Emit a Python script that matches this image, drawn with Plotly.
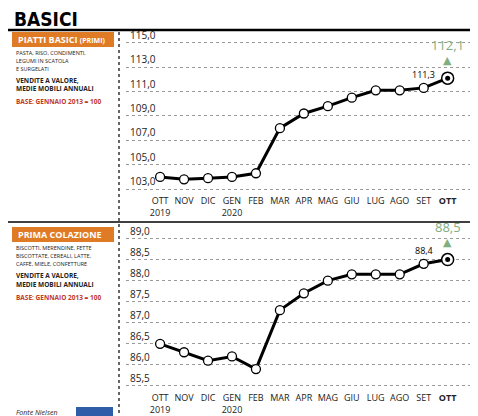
import plotly.graph_objects as go

mesi = ["OTT<br>2019", "NOV", "DIC", "GEN<br>2020", "FEB", "MAR", "APR", "MAG",
        "GIU", "LUG", "AGO", "SET", "<b>OTT</b>"]
primi = [104.0, 103.8, 103.9, 104.0, 104.3, 108.0, 109.2, 109.8, 110.5, 111.1, 111.1, 111.3, 112.1]
colazione = [86.5, 86.3, 86.1, 86.2, 85.9, 87.3, 87.7, 88.0, 88.15, 88.15, 88.15, 88.4, 88.5]
ticks_primi = [103, 105, 107, 109, 111, 113, 115]
ticks_colazione = [85.5, 86.0, 86.5, 87.0, 87.5, 88.0, 88.5, 89.0]

FONT = "Open Sans"
ORANGE = "#e07b25"
GREEN = "#7fae7f"
RED = "#c0392b"
xs = list(range(len(mesi)))

fig = go.Figure()
for vals, ax in [(primi, ""), (colazione, "2")]:
    fig.add_trace(go.Scatter(x=xs, y=vals, xaxis="x" + ax, yaxis="y" + ax, mode="lines+markers",
                             line=dict(color="black", width=3),
                             marker=dict(size=9, color="white", line=dict(color="black", width=1.3)),
                             showlegend=False, hoverinfo="skip", cliponaxis=False))
    fig.add_trace(go.Scatter(x=[xs[-1]], y=[vals[-1]], xaxis="x" + ax, yaxis="y" + ax, mode="markers",
                             marker=dict(size=12, color="white", line=dict(color="black", width=1.5)),
                             showlegend=False, hoverinfo="skip"))
    fig.add_trace(go.Scatter(x=[xs[-1]], y=[vals[-1]], xaxis="x" + ax, yaxis="y" + ax, mode="markers",
                             marker=dict(size=5, color="black"), showlegend=False, hoverinfo="skip"))

def yax(dom, rng, ticks):
    return dict(domain=dom, range=rng, tickvals=ticks, showticklabels=False,
                showgrid=True, gridcolor="#9a9a9a",
                griddash="dot", gridwidth=1, zeroline=False, showline=False, ticks="")

def xax(anchor):
    return dict(domain=[0.247, 1], range=[-1.42, 13.6], tickvals=xs, ticktext=mesi, anchor=anchor,
                showgrid=False, zeroline=False, showline=False, ticks="",
                tickfont=dict(family=FONT, size=9, color="#222"))

fig.update_layout(
    width=478, height=416, margin=dict(l=0, r=0, t=0, b=0),
    paper_bgcolor="white", plot_bgcolor="white",
    xaxis=xax("y"), xaxis2=xax("y2"),
    yaxis=yax([1 - 186 / 416, 1 - 25 / 416], [102.6, 115.8], ticks_primi),
    yaxis2=yax([1 - 383 / 416, 1 - 220 / 416], [85.38, 89.25], ticks_colazione),
)

# y tick labels sitting above each gridline
for ticks, ax in [(ticks_primi, "y"), (ticks_colazione, "y2")]:
    for t in ticks:
        fig.add_annotation(xref="paper", yref=ax, x=120 / 478, y=t, text=f"{t:.1f}".replace(".", ","),
                           showarrow=False, xanchor="left", yanchor="bottom", yshift=-1,
                           font=dict(family=FONT, size=10, color="#222"))

def txt(x, y, s, size=7, color="#222", bold=False, anchor="left"):
    fig.add_annotation(xref="paper", yref="paper", x=x / 478, y=1 - y / 416, text=f"<b>{s}</b>" if bold else s,
                       showarrow=False, xanchor=anchor, yanchor="middle", align="left",
                       font=dict(family=FONT, size=size, color=color))

# title and frame lines
fig.add_annotation(xref="paper", yref="paper", x=4 / 478, y=1 - 11 / 416, text="<b>BASICI</b>", showarrow=False,
                   xanchor="left", yanchor="middle", font=dict(family="DejaVu Sans Condensed", size=19, color="black"))
for yy, w in [(22, 2.5), (214, 1.5), (413, 2)]:
    fig.add_shape(type="line", xref="paper", yref="paper", x0=0, x1=1, y0=1 - yy / 416, y1=1 - yy / 416,
                  line=dict(color="black", width=w))
fig.add_shape(type="line", xref="paper", yref="paper", x0=111 / 478, x1=111 / 478, y0=1 - 24 / 416, y1=1 - 410 / 416,
              line=dict(color="black", width=1.2, dash="dot"))

# left panels
for y0, head, lines in [(24, "PIATTI BASICI <span style='font-size:7px'>(PRIMI)</span>",
                         ["PASTA, RISO, CONDIMENTI,", "LEGUMI IN SCATOLA", "E SURGELATI"]),
                        (219, "PRIMA COLAZIONE",
                         ["BISCOTTI, MERENDINE, FETTE", "BISCOTTATE, CEREALI, LATTE,", "CAFFÈ, MIELE, CONFETTURE"])]:
    fig.add_shape(type="rect", xref="paper", yref="paper", x0=4 / 478, x1=106 / 478,
                  y0=1 - (y0 + 15) / 416, y1=1 - y0 / 416, fillcolor=ORANGE, line_width=0)
    txt(8, y0 + 7.5, head, size=9, color="white", bold=True)
    for i, l in enumerate(lines):
        txt(6, y0 + 21 + i * 8, l, size=5.5)
    txt(6, y0 + 48, "VENDITE A VALORE,", size=6.5, bold=True)
    txt(6, y0 + 57, "MEDIE MOBILI ANNUALI", size=6.5, bold=True)
    txt(6, y0 + 70, "BASE: GENNAIO 2013 = 100", size=6.5, color=RED, bold=True)

txt(6, 404, "<i>Fonte Nielsen</i>", size=7)
fig.add_shape(type="rect", xref="paper", yref="paper", x0=68 / 478, x1=105 / 478, y0=1 - 409 / 416, y1=1 - 399 / 416,
              fillcolor="#2f5da8", line_width=0)

# value labels and green markers
for vals, ax in [(primi, ""), (colazione, "2")]:
    fig.add_annotation(xref="x" + ax, yref="y" + ax, x=xs[-2], y=vals[-2], text=f"{vals[-2]:.1f}".replace(".", ","),
                       showarrow=False, xanchor="center", yanchor="bottom", yshift=5,
                       font=dict(family=FONT, size=9, color="black"))
    fig.add_annotation(xref="x" + ax, yref="y" + ax, x=xs[-1], y=vals[-1], text=f"{vals[-1]:.1f}".replace(".", ","),
                       showarrow=False, xanchor="center", yanchor="bottom", yshift=22,
                       font=dict(family=FONT, size=13, color=GREEN))
    fig.add_annotation(xref="x" + ax, yref="y" + ax, x=xs[-1], y=vals[-1], text="▲", showarrow=False,
                       xanchor="center", yanchor="bottom", yshift=9,
                       font=dict(family="DejaVu Sans", size=11, color=GREEN))

fig.write_html("out.html")
